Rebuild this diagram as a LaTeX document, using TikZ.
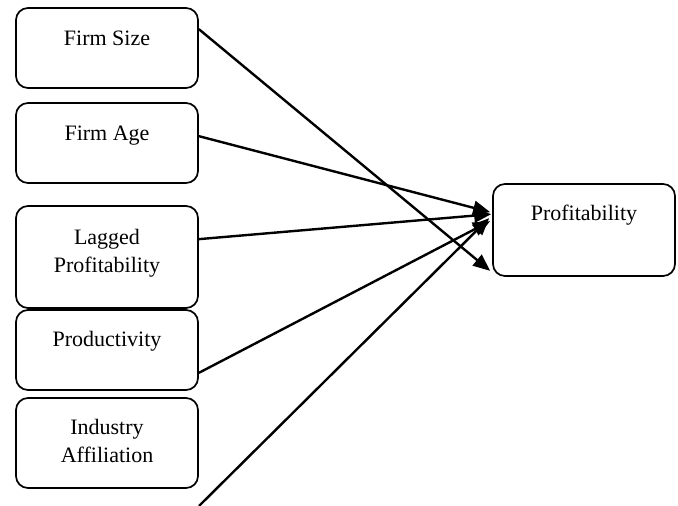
\documentclass[tikz,border=0pt]{standalone}
\usepackage{fontspec}
\setmainfont{Liberation Serif}
\usetikzlibrary{arrows.meta,calc}
\begin{document}
\begin{tikzpicture}[x=1pt,y=-1pt,
  box/.style={draw,line width=1.7pt,rounded corners=12pt,minimum width=182pt,inner sep=0pt},
  lbl/.style={anchor=north,align=center,font=\fontsize{22}{28}\selectfont,inner sep=0pt},
  arr/.style={line width=2.4pt,-{Triangle[length=17pt,width=14pt]}}]
\useasboundingbox (0,0) rectangle (678,506);
\node[box,minimum height=80pt] (size) at (107,48) {};
\node[box,minimum height=80pt] (age) at (107,143) {};
\node[box,minimum height=102pt] (lag) at (107,257) {};
\node[box,minimum height=80pt] (prod) at (107,350) {};
\node[box,minimum height=90pt] (ind) at (107,443) {};
\node[box,minimum height=92pt] (prof) at (584,230) {};
\node[lbl] (tsize) at ($(size.north)+(0,24)$) {Firm Size};
\node[lbl] (tage) at ($(age.north)+(0,24)$) {Firm Age};
\node[lbl] (tlag) at ($(lag.north)+(0,24)$) {Lagged\\Profitability};
\node[lbl] (tprod) at ($(prod.north)+(0,22)$) {Productivity};
\node[lbl] (tind) at ($(ind.north)+(0,22)$) {Industry\\Affiliation};
\node[lbl] (tprof) at ($(prof.north)+(0,22)$) {Profitability};
\coordinate (s5) at (199,506);
\draw[arr] ($(size.north east)+(0,22)$) -- ($(prof.south west)+(-2,-6)$);
\draw[arr] ($(age.north east)+(0,34)$) -- ($(prof.north west)+(-2,29)$);
\draw[arr] ($(lag.north east)+(0,34)$) -- ($(prof.north west)+(-1,31)$);
\draw[arr] ($(prod.south east)+(0,-18)$) -- ($(prof.north west)+(-2,38)$);
\draw[arr] (s5) -- ($(prof.north west)+(-3,35)$);
\end{tikzpicture}
\end{document}
